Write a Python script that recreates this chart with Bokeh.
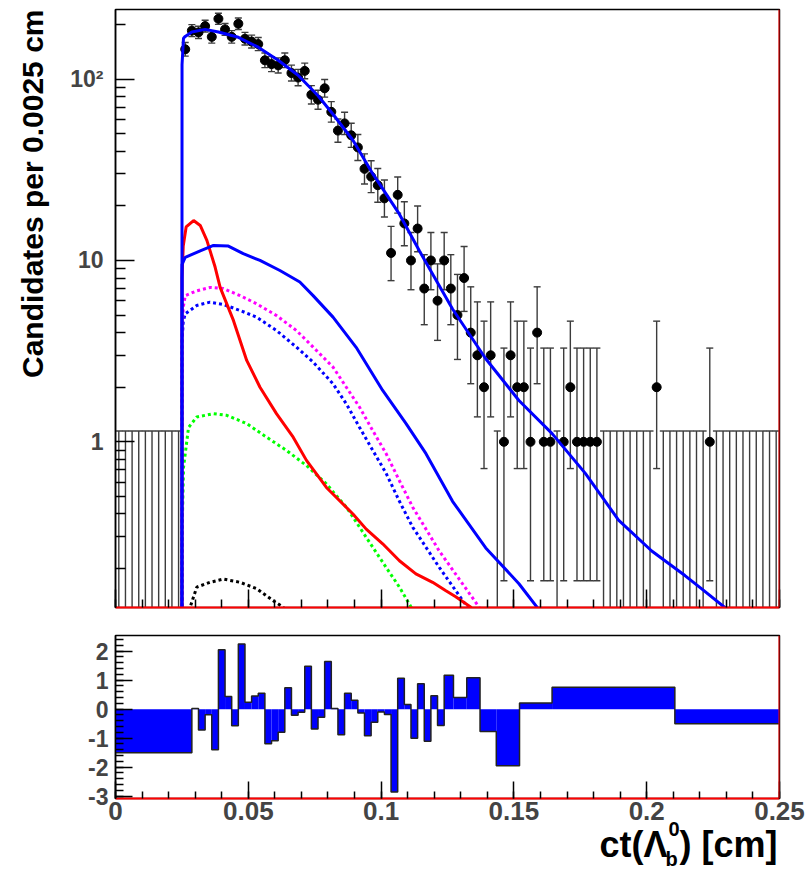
import math
from bokeh.plotting import figure
from bokeh.layouts import column
from bokeh.models import FixedTicker, Span, Range1d
from bokeh.core.properties import value
from bokeh.embed import file_html
from bokeh.resources import INLINE

FONT = "Liberation Sans"

# ---------------- data ----------------
BIN_WIDTH = 0.0025          # cm per data bin
# candidates per 0.0025 cm bin, 0 ... 0.25 cm (100 bins)
counts = [0, 0, 0, 0, 0, 0, 0, 0, 0, 0,
          146, 185, 181, 196, 171, 215, 188, 171, 202, 167,
          161, 156, 127, 121, 119, 127, 108, 102, 111, 82,
          77, 89, 66, 52, 57, 49, 42, 32, 29, 26,
          22, 11, 23, 16, 10, 15, 7, 10, 6, 10,
          7, 5, 8, 4, 3, 2, 3, 0, 1, 3,
          2, 2, 1, 4, 1, 1, 0, 1, 2, 1,
          1, 1, 1, 0, 0, 0, 0, 0, 0, 0,
          0, 2, 0, 0, 0, 0, 0, 0, 0, 1,
          0, 0, 0, 0, 0, 0, 0, 0, 0, 0]
ZERO_UPPER = 1.147          # 68% upper limit drawn for an empty bin

# fit model curves (ct in cm, candidates per bin)
tot_x = [0.0250, 0.02505, 0.0256, 0.02625, 0.02875, 0.03375, 0.03875, 0.04625, 0.05375,
         0.06125, 0.06875, 0.07625, 0.0819, 0.0894, 0.0969, 0.1069, 0.1144, 0.1269,
         0.1394, 0.1519, 0.1644, 0.1769, 0.1894, 0.2019, 0.2144, 0.2206, 0.2294, 0.2330]
tot_y = [0.01, 120, 168, 172, 182, 188, 182, 170, 150,
         127, 105, 81, 64, 46, 30, 18, 11.3, 5.4,
         2.87, 1.69, 1.11, 0.67, 0.37, 0.25, 0.183, 0.155, 0.122, 0.105]

sig_x = [0.0250, 0.02505, 0.02625, 0.0319, 0.0369, 0.0425, 0.0481, 0.0544, 0.0619, 0.0694,
         0.0744, 0.0819, 0.0906, 0.1006, 0.1094, 0.1169, 0.1269, 0.1394, 0.1519, 0.1587, 0.1600]
sig_y = [0.01, 9.5, 10.4, 11.3, 12.1, 12.0, 10.9, 10.0, 8.8, 7.6,
         6.4, 4.87, 3.32, 1.92, 1.26, 0.86, 0.47, 0.26, 0.165, 0.1225, 0.115]

red_x = [0.0250, 0.02505, 0.0255, 0.0266, 0.0294, 0.0319, 0.0344, 0.0375, 0.0394, 0.0444,
         0.0494, 0.0544, 0.0606, 0.0669, 0.0719, 0.0794, 0.0894, 0.0944, 0.1006, 0.1069,
         0.1131, 0.1194, 0.1244, 0.1281, 0.1338, 0.1350]
red_y = [0.01, 8, 12, 15.3, 16.6, 15.6, 12.9, 9.2, 7.1, 4.67,
         2.81, 2.0, 1.43, 1.06, 0.79, 0.56, 0.40, 0.33, 0.274, 0.221,
         0.187, 0.168, 0.151, 0.14, 0.1225, 0.11]

mag_x = [0.0250, 0.02505, 0.0255, 0.02625, 0.0306, 0.0356, 0.0406, 0.0469, 0.0531, 0.0606,
         0.0681, 0.0744, 0.0819, 0.0869, 0.0919, 0.0969, 0.1019, 0.1069, 0.1119, 0.1169,
         0.1219, 0.1294, 0.1369, 0.1400]
mag_y = [0.01, 4, 5.5, 6.4, 6.8, 7.1, 7.0, 6.4, 5.77, 4.97,
         4.11, 3.33, 2.58, 2.0, 1.55, 1.15, 0.86, 0.61, 0.436, 0.33,
         0.25, 0.175, 0.1225, 0.11]

bdot_x = [0.0250, 0.02505, 0.0255, 0.02625, 0.0306, 0.0356, 0.0406, 0.0469, 0.0531, 0.0606,
          0.0681, 0.0744, 0.0819, 0.0869, 0.0919, 0.0969, 0.1019, 0.1069, 0.1119, 0.1169,
          0.1219, 0.1269, 0.1325, 0.1350]
bdot_y = [0.01, 3.5, 4.6, 5.08, 5.65, 5.89, 5.72, 5.3, 4.87, 4.11,
          3.33, 2.75, 2.09, 1.62, 1.2, 0.895, 0.67, 0.47, 0.338, 0.262,
          0.203, 0.16, 0.1225, 0.11]

grn_x = [0.0250, 0.02505, 0.0256, 0.0275, 0.0306, 0.0369, 0.0419, 0.0494, 0.0569, 0.0644,
         0.0719, 0.0794, 0.0869, 0.0919, 0.0969, 0.1019, 0.1069, 0.1113, 0.1125]
grn_y = [0.01, 0.3, 0.72, 1.2, 1.37, 1.43, 1.40, 1.26, 1.06, 0.895,
         0.74, 0.586, 0.436, 0.338, 0.262, 0.203, 0.158, 0.1225, 0.11]

blk_x = [0.0275, 0.0281, 0.0306, 0.0356, 0.0406, 0.0469, 0.0531, 0.0594, 0.0631, 0.0640]
blk_y = [0.10, 0.1225, 0.158, 0.168, 0.175, 0.168, 0.155, 0.133, 0.1225, 0.115]

# pull histogram
pull_edges = [0.0, 0.02875, 0.03125, 0.03375, 0.03625, 0.03875, 0.04125, 0.04375, 0.04625,
              0.04875, 0.05125, 0.05375, 0.05625, 0.05875, 0.06125, 0.06375, 0.06625,
              0.06875, 0.07125, 0.07375, 0.07625, 0.07875, 0.08125, 0.08375, 0.08625,
              0.08875, 0.09125, 0.09375, 0.09625, 0.09875, 0.10125, 0.10375, 0.10625,
              0.10875, 0.11125, 0.11375, 0.11625, 0.11875, 0.12125, 0.12375, 0.12725,
              0.13225, 0.13725, 0.14337, 0.15212, 0.16437, 0.2106, 0.25]
pull_vals = [-1.50, 0.02, -0.72, -0.19, -1.40, 2.05, 0.44, -0.57, 2.25, 0.24,
             0.45, 0.55, -1.19, -1.09, -0.80, 0.74, -0.21, -0.11, 1.48, -0.68,
             -0.28, 1.64, 0.02, -0.88, 0.55, 0.31, -0.13, -0.92, -0.45, -0.10,
             -0.18, -2.86, 1.07, 0.16, -1.00, 0.88, -1.11, 0.46, -0.56, 1.17,
             0.40, 1.08, -0.77, -1.95, 0.21, 0.76, -0.50]

# axes
x_ticks = [0, 0.05, 0.1, 0.15, 0.2, 0.25]
x_tick_labels = ["0", "0.05", "0.1", "0.15", "0.2", "0.25"]
y_ticks = [1, 10, 100]
y_tick_labels = ["1", "10", "10\u00b2"]
pull_ticks = [-3, -2, -1, 0, 1, 2]
pull_tick_labels = ["-3", "-2", "-1", "0", "1", "2"]
X_MIN, X_MAX = 0.0, 0.25
Y_MIN, Y_MAX = 0.122, 242.0
PULL_MIN, PULL_MAX = -3.08, 2.54

y_title = "Candidates per 0.0025 cm"
x_title_parts = ["ct(\u039b", "0", "b", ") [cm]"]   # main, superscript, subscript, rest

# ---------------- layout constants ----------------
W = 806
TOP_H = 620
BOT_H = 249
LEFT = 115
RIGHT = 27
FRAME_W = W - LEFT - RIGHT
X_PER_PX = (X_MAX - X_MIN) / FRAME_W

x_minor = [round(0.01 * i, 4) for i in range(26)]
y_minor = [m * d for d in (0.1, 1, 10, 100) for m in range(2, 10) if Y_MIN <= m * d <= Y_MAX]
pull_minor = [round(-3.0 + 0.2 * i, 2) for i in range(29)]


def poisson_interval(n):
    if n == 0:
        return 0.0, ZERO_UPPER
    lo = n * (1 - 1 / (9 * n) - 1 / (3 * math.sqrt(n))) ** 3
    m = n + 1
    hi = m * (1 - 1 / (9 * m) + 1 / (3 * math.sqrt(m))) ** 3
    return lo, hi


centers = [(i + 0.5) * BIN_WIDTH for i in range(len(counts))]
err_lo, err_hi = [], []
for n in counts:
    lo, hi = poisson_interval(n)
    err_lo.append(lo if n > 0 else Y_MIN * 0.5)
    err_hi.append(hi)
pt_x = [c for c, n in zip(centers, counts) if n > 0]
pt_y = [n for n in counts if n > 0]
low_cap_y = [lo for lo, n in zip(err_lo, counts) if n > 0]


def style_common(fig):
    fig.xgrid.visible = False
    fig.ygrid.visible = False
    fig.outline_line_color = "black"
    fig.outline_line_width = 1.5
    fig.background_fill_color = "white"
    fig.border_fill_color = "white"


# ---------------- top panel ----------------
p = figure(width=W, height=TOP_H, x_range=Range1d(X_MIN, X_MAX), y_range=Range1d(Y_MIN, Y_MAX),
           y_axis_type="log", output_backend="svg", toolbar_location=None,
           min_border_left=LEFT, min_border_right=RIGHT, min_border_top=9, min_border_bottom=13)
style_common(p)

xa = p.xaxis[0]
xa.ticker = FixedTicker(ticks=x_ticks, minor_ticks=x_minor)
xa.major_label_overrides = {t: "" for t in x_ticks}
xa.major_tick_in = 18
xa.major_tick_out = 0
xa.minor_tick_in = 8
xa.minor_tick_out = 0
xa.major_tick_line_width = 1.5
xa.minor_tick_line_width = 1.5
xa.major_label_text_font_size = "1px"
xa.major_label_standoff = 0
xa.axis_line_color = "red"
xa.axis_line_width = 2

ya = p.yaxis[0]
ya.ticker = FixedTicker(ticks=y_ticks, minor_ticks=y_minor)
ya.major_label_overrides = dict(zip(y_ticks, y_tick_labels))
ya.major_tick_in = 19
ya.major_tick_out = 0
ya.minor_tick_in = 10
ya.minor_tick_out = 0
ya.major_tick_line_width = 1.5
ya.minor_tick_line_width = 1.5
ya.axis_line_width = 1.5
ya.major_label_text_font = FONT
ya.major_label_text_font_style = "bold"
ya.major_label_text_font_size = "23px"
ya.major_label_standoff = 12

p.add_layout(Span(location=X_MAX, dimension="height", line_color="red", line_width=2))

ERR_COL = "#3c3c3c"
p.segment(x0=centers, y0=err_lo, x1=centers, y1=err_hi, line_color=ERR_COL, line_width=1.4)
p.scatter(x=centers, y=err_hi, marker="dash", size=7, line_color=ERR_COL, line_width=1.4)
p.scatter(x=pt_x, y=low_cap_y, marker="dash", size=7, line_color=ERR_COL, line_width=1.4)
p.scatter(x=pt_x, y=pt_y, marker="circle", size=9, fill_color="black", line_color="black")

DASH = "3 3"
p.line(blk_x, blk_y, line_color="black", line_width=3, line_dash=DASH)
p.line(grn_x, grn_y, line_color="#00ff00", line_width=3, line_dash=DASH)
p.line(bdot_x, bdot_y, line_color="#0000ff", line_width=3, line_dash=DASH)
p.line(mag_x, mag_y, line_color="#ff00ff", line_width=3, line_dash=DASH)
p.line(red_x, red_y, line_color="#ff0000", line_width=3)
p.line(sig_x, sig_y, line_color="#0000ff", line_width=3)
p.line(tot_x, tot_y, line_color="#0000ff", line_width=3)

# y-axis title: rotated, top-aligned, drawn unclipped in the left margin
p.text(x=[X_MIN - 83 * X_PER_PX], y=[Y_MAX], text=[y_title], angle=math.pi / 2,
       text_align="right", text_baseline="middle", text_font=value(FONT),
       text_font_style="bold", text_font_size="30px", text_color="black", level="overlay")

# ---------------- pull panel ----------------
q = figure(width=W, height=BOT_H, x_range=Range1d(X_MIN, X_MAX), y_range=Range1d(PULL_MIN, PULL_MAX),
           output_backend="svg", toolbar_location=None,
           min_border_left=LEFT, min_border_right=RIGHT, min_border_top=15, min_border_bottom=71)
style_common(q)

qx = q.xaxis[0]
qx.ticker = FixedTicker(ticks=x_ticks, minor_ticks=x_minor)
qx.major_label_overrides = dict(zip(x_ticks, x_tick_labels))
qx.major_tick_in = 17
qx.major_tick_out = 0
qx.minor_tick_in = 7
qx.minor_tick_out = 0
qx.major_tick_line_width = 1.5
qx.minor_tick_line_width = 1.5
qx.axis_line_color = "red"
qx.axis_line_width = 2
qx.major_label_text_font = FONT
qx.major_label_text_font_style = "bold"
qx.major_label_text_font_size = "26px"
qx.major_label_standoff = 3

qy = q.yaxis[0]
qy.ticker = FixedTicker(ticks=pull_ticks, minor_ticks=pull_minor)
qy.major_label_overrides = dict(zip(pull_ticks, pull_tick_labels))
qy.major_tick_in = 17
qy.major_tick_out = 0
qy.minor_tick_in = 8
qy.minor_tick_out = 0
qy.major_tick_line_width = 1.5
qy.minor_tick_line_width = 1.5
qy.axis_line_width = 1.5
qy.major_label_text_font = FONT
qy.major_label_text_font_style = "bold"
qy.major_label_text_font_size = "23px"
qy.major_label_standoff = 7

q.add_layout(Span(location=X_MAX, dimension="height", line_color="red", line_width=2))

q.quad(left=pull_edges[:-1], right=pull_edges[1:], bottom=0, top=pull_vals,
       fill_color="#0000ff", line_color=None)
q.step(x=pull_edges, y=pull_vals + [pull_vals[-1]], mode="after", line_color="#222222", line_width=1.5)

# x-axis title ct(Λ_b^0) [cm], anchored at the frame's bottom-right corner, drawn unclipped
title_style = dict(text_font=value(FONT), text_font_style="bold", text_color="black",
                   text_baseline="middle", level="overlay")
q.text(x=[X_MAX], y=[PULL_MIN], text=[x_title_parts[0]], x_offset=-112, y_offset=46,
       text_align="right", text_font_size="36px", **title_style)
q.text(x=[X_MAX], y=[PULL_MIN], text=[x_title_parts[1]], x_offset=-111, y_offset=30,
       text_align="left", text_font_size="20px", **title_style)
q.text(x=[X_MAX], y=[PULL_MIN], text=[x_title_parts[2]], x_offset=-114, y_offset=60,
       text_align="left", text_font_size="20px", **title_style)
q.text(x=[X_MAX], y=[PULL_MIN], text=[x_title_parts[3]], x_offset=-100, y_offset=46,
       text_align="left", text_font_size="36px", **title_style)

layout = column(p, q, spacing=0)
open("out.html", "w").write(file_html(layout, INLINE))
